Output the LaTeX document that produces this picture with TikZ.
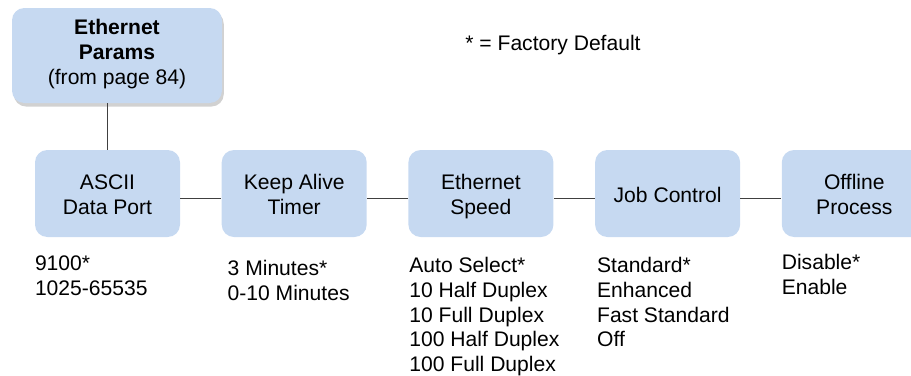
\documentclass[tikz,border=0pt]{standalone}
\usepackage{fontspec}
\setmainfont{Liberation Sans}
\usetikzlibrary{positioning, shadows}

\definecolor{boxblue}{HTML}{C6D9F1}
\definecolor{linegray}{HTML}{404040}
\newcommand{\boxtop}{\rule{0pt}{13.9pt}}

\begin{document}
\begin{tikzpicture}[
  node distance=0.82cm,
  menu/.style={rectangle, rounded corners=7pt, fill=boxblue,
               minimum width=2.9cm, minimum height=1.74cm,
               align=center, inner sep=2pt,
               font=\fontsize{12}{14}\selectfont,
               execute at end node={\strut}},
  top/.style={menu, minimum width=4.2cm, minimum height=1.9cm,
              drop shadow={shadow xshift=1pt, shadow yshift=-2pt,
                           opacity=0.3, fill=black!60}},
  opts/.style={align=left, inner sep=0pt,
               font=\fontsize{12}{14}\selectfont},
  link/.style={draw=linegray, line width=0.6pt}
]
\useasboundingbox (0,0) rectangle (18.22,-7.5);

% parent menu
\node[top] (eth) at (2.34,-1.11)
  {\textbf{Ethernet}\\\textbf{Params}\\(from page 84)};
\node[opts, anchor=center] (note) at (11.06,-0.9) {* = Factory Default};

% menu row
\node[menu] (ascii) at (2.15,-3.87) {\boxtop ASCII\\Data Port};
\node[menu, right=of ascii] (kat) {\boxtop Keep Alive\\Timer};
\node[menu, right=of kat] (speed) {\boxtop Ethernet\\Speed};
\node[menu, right=of speed] (job) {\boxtop Job Control};
\node[menu, right=of job] (offl) {\boxtop Offline\\Process};

% option lists
\node[opts, below right=0.36cm and 0cm of ascii.south west] (asciiopt)
  {9100*\\1025-65535};
\node[opts, below right=0.46cm and 0.12cm of kat.south west] (katopt)
  {3 Minutes*\\0-10 Minutes};
\node[opts, below right=0.4cm and 0.02cm of speed.south west] (speedopt)
  {Auto Select*\\10 Half Duplex\\10 Full Duplex\\100 Half Duplex\\100 Full Duplex};
\node[opts, below right=0.4cm and 0.04cm of job.south west] (jobopt)
  {Standard*\\Enhanced\\Fast Standard\\Off};
\node[opts, below right=0.34cm and 0cm of offl.south west] (offlopt)
  {Disable*\\Enable};

\draw[link] (ascii.north) -- (ascii.north |- eth.south);
\foreach \a/\b in {ascii/kat, kat/speed, speed/job, job/offl}
  \draw[link] ([yshift=-0.1cm]\a.east) -- ([yshift=-0.1cm]\b.west);
\end{tikzpicture}
\end{document}
